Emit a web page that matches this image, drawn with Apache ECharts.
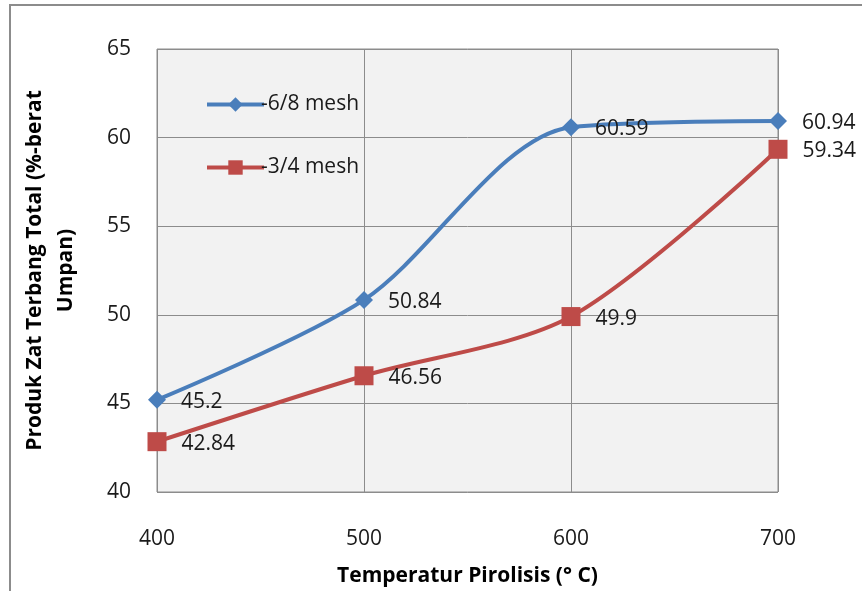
<!DOCTYPE html>
<html>
<head>
<meta charset="utf-8">
<script src="https://cdn.jsdelivr.net/npm/echarts@6/dist/echarts.min.js"></script>
<style>
  html, body { margin: 0; padding: 0; background: #fff; }
  #chart { width: 862px; height: 591px; }
</style>
</head>
<body>
<div id="chart"></div>
<script>
// data
const temps = [400, 500, 600, 700]
const mesh68 = [45.2, 50.84, 60.59, 60.94]
const mesh34 = [42.84, 46.56, 49.9, 59.34]
const seriesNames = ['-6/8 mesh', '-3/4 mesh']

const font = '"Open Sans", "Noto Sans", sans-serif'
const blue = '#4a7ebb'
const red = '#be4b48'

const pairs = vals => temps.map((t, i) => [t, vals[i]])

const chart = echarts.init(document.getElementById('chart'))

const labelStyle = {
  show: true,
  position: 'right',
  distance: 15,
  color: '#1a1a1a',
  fontFamily: font,
  fontSize: 21,
  offset: [0, 2]
}

chart.setOption({
  animation: false,
  backgroundColor: '#fff',
  textStyle: { fontFamily: font },
  graphic: [{
    type: 'rect',
    shape: { x: 10, y: 5, width: 900, height: 700 },
    style: { fill: 'none', stroke: '#8c8c8c', lineWidth: 2 },
    silent: true
  }],
  grid: {
    left: 157, right: 84, top: 49, bottom: 99,
    outerBoundsMode: 'none',
    containLabel: false,
    show: true,
    backgroundColor: '#f2f2f2',
    borderColor: '#8c8c8c',
    borderWidth: 1
  },
  legend: {
    orient: 'vertical',
    left: 205, top: 94,
    padding: 0,
    itemGap: 42,
    itemWidth: 57, itemHeight: 18,
    data: seriesNames,
    lineStyle: { width: 4 },
    textStyle: { fontFamily: font, fontSize: 21, color: '#1a1a1a', padding: [0, 0, 0, -8] }
  },
  xAxis: {
    type: 'value',
    min: 400, max: 700, interval: 100,
    name: 'Temperatur Pirolisis (° C)',
    nameLocation: 'middle',
    nameGap: 74,
    nameTextStyle: { fontFamily: font, fontSize: 21, fontWeight: 'bold', color: '#000' },
    axisLine: { show: false },
    axisTick: { show: false },
    axisLabel: { fontFamily: font, fontSize: 21, color: '#1a1a1a', margin: 37 },
    splitLine: { lineStyle: { color: '#8c8c8c', width: 1 } }
  },
  yAxis: {
    type: 'value',
    min: 40, max: 65, interval: 5,
    name: 'Produk Zat Terbang Total (%-berat\nUmpan)',
    nameLocation: 'middle',
    nameGap: 75,
    nameTextStyle: { fontFamily: font, fontSize: 21, fontWeight: 'bold', color: '#000', lineHeight: 31 },
    axisLine: { show: false },
    axisTick: { show: false },
    axisLabel: { fontFamily: font, fontSize: 21, color: '#1a1a1a', margin: 26 },
    splitLine: { lineStyle: { color: '#8c8c8c', width: 1 } }
  },
  series: [
    {
      name: seriesNames[0],
      type: 'line',
      data: pairs(mesh68),
      smooth: 0.3,
      symbol: 'diamond',
      symbolSize: 18,
      lineStyle: { color: blue, width: 4 },
      itemStyle: { color: blue },
      label: labelStyle
    },
    {
      name: seriesNames[1],
      type: 'line',
      data: pairs(mesh34),
      smooth: 0.3,
      symbol: 'rect',
      symbolSize: 19,
      lineStyle: { color: red, width: 4 },
      itemStyle: { color: red },
      label: labelStyle
    }
  ]
})
</script>
</body>
</html>
